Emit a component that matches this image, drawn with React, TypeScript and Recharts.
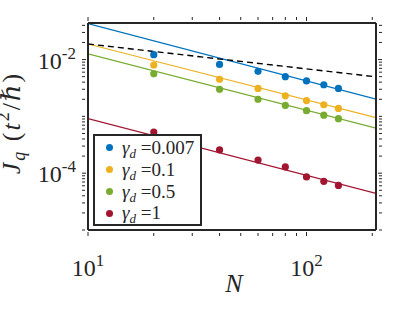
import React from 'react';
import {
  ComposedChart,
  Line,
  Scatter,
  XAxis,
  YAxis,
  Legend,
} from 'recharts';

// system sizes N and measured currents J_q for each dephasing rate
const sizes = [20, 40, 60, 80, 100, 120, 140];
const jGamma0007 = [0.0122, 0.0082, 0.0062, 0.005, 0.0042, 0.0036, 0.0031];
const jGamma01 = [0.008, 0.0045, 0.0031, 0.0023, 0.0019, 0.0016, 0.00138];
const jGamma05 = [0.0056, 0.003, 0.002, 0.00156, 0.00126, 0.00105, 0.00091];
const jGamma1 = [0.00053, 0.000257, 0.00017, 0.000129, 0.000086, 0.000072, 0.000061];

// fitted power laws, given at the two ends of the N range
const fitSizes = [10, 208];
const fitGamma0007 = [0.043, 0.00201];
const fitGamma01 = [0.0188, 0.00095];
const fitGamma05 = [0.0126, 0.00062];
const fitGamma1 = [0.00091, 0.000044];
const refSlope = [0.0188, 0.00497];

// axis ticks
const xMajorTicks = [10, 100];
const xTickExps = ['1', '2'];
const xMinorTicks = [20, 30, 40, 50, 60, 70, 80, 90, 200];
const yMajorTicks = [1e-4, 1e-2];
const yTickExps = ['-4', '-2'];
const yMinorTicks = [
  1e-5, 2e-5, 3e-5, 4e-5, 5e-5, 6e-5, 7e-5, 8e-5, 9e-5,
  2e-4, 3e-4, 4e-4, 5e-4, 6e-4, 7e-4, 8e-4, 9e-4,
  1e-3, 2e-3, 3e-3, 4e-3, 5e-3, 6e-3, 7e-3, 8e-3, 9e-3,
  2e-2, 3e-2, 4e-2,
];

const legendLabels = ['0.007', '0.1', '0.5', '1'];
const colors = ['#0072BD', '#EDB120', '#77AC30', '#A2142F'];

const FONT = "'Liberation Serif', 'DejaVu Serif', serif";
const AXIS = '#262626';

const toRows = (xs: number[], ys: number[]) => xs.map((n, i) => ({ n, j: ys[i] }));

const points = [jGamma0007, jGamma01, jGamma05, jGamma1].map((ys) => toRows(sizes, ys));
const fits = [fitGamma0007, fitGamma01, fitGamma05, fitGamma1].map((ys) => toRows(fitSizes, ys));
const refRows = toRows(fitSizes, refSlope);

const xTicks = [...xMajorTicks, ...xMinorTicks];
const yTicks = [...yMajorTicks, ...yMinorTicks];

const makeXTick = (side: 'bottom' | 'top') => (props: any) => {
  const { x, y, payload } = props;
  const idx = xMajorTicks.indexOf(payload.value);
  const len = idx >= 0 ? 4 : 3;
  const dir = side === 'bottom' ? -1 : 1;
  return (
    <g>
      <line x1={x} y1={y} x2={x} y2={y + dir * len} stroke={AXIS} strokeWidth={1} />
      {side === 'bottom' && idx >= 0 && (
        <text x={x} y={y + 40} textAnchor="middle" fontFamily={FONT} fontSize={24} fill={AXIS}>
          <tspan>10</tspan>
          <tspan fontSize={17} dy={-10}>{xTickExps[idx]}</tspan>
        </text>
      )}
    </g>
  );
};

const makeYTick = (side: 'left' | 'right') => (props: any) => {
  const { x, y, payload } = props;
  const idx = yMajorTicks.indexOf(payload.value);
  const len = idx >= 0 ? 4 : 3;
  const dir = side === 'left' ? 1 : -1;
  return (
    <g>
      <line x1={x} y1={y} x2={x + dir * len} y2={y} stroke={AXIS} strokeWidth={1} />
      {side === 'left' && idx >= 0 && (
        <text x={x - 6} y={y + 9} textAnchor="end" fontFamily={FONT} fontSize={24} fill={AXIS}>
          <tspan>10</tspan>
          <tspan fontSize={17} dy={-10}>{yTickExps[idx]}</tspan>
        </text>
      )}
    </g>
  );
};

const YLabel = () => (
  <text
    x={20}
    y={123}
    transform="rotate(-90 20 123)"
    textAnchor="middle"
    fontFamily={FONT}
    fontSize={26}
    letterSpacing={2}
    fill={AXIS}
  >
    <tspan fontStyle="italic">J</tspan>
    <tspan fontStyle="italic" fontSize={18} dy={5}>q</tspan>
    <tspan dy={-5}>{' ('}</tspan>
    <tspan fontStyle="italic">t</tspan>
    <tspan fontSize={18} dy={-11}>2</tspan>
    <tspan dy={11}>/</tspan>
    <tspan fontStyle="italic">ℏ</tspan>
    <tspan>)</tspan>
  </text>
);

const XLabel = () => (
  <text x={234} y={292} textAnchor="middle" fontFamily={FONT} fontSize={26} fontStyle="italic" fill={AXIS}>
    N
  </text>
);

const renderLegend = () => (
  <div
    style={{
      boxSizing: 'border-box',
      width: 109,
      height: 92,
      border: `2px solid ${AXIS}`,
      background: '#fff',
      paddingTop: 1,
      fontFamily: FONT,
      color: AXIS,
    }}
  >
    {legendLabels.map((label, i) => (
      <div key={label} style={{ display: 'flex', alignItems: 'center', height: 21.8 }}>
        <span
          style={{
            display: 'inline-block',
            width: 7,
            height: 7,
            borderRadius: '50%',
            background: colors[i],
            marginLeft: 11,
            marginRight: 9,
          }}
        />
        <span style={{ fontSize: 19, whiteSpace: 'nowrap' }}>
          <i>γ</i>
          <i style={{ fontSize: 13, position: 'relative', top: 4 }}>d</i>
          {' =' + label}
        </span>
      </div>
    ))}
  </div>
);

export default function App() {
  return (
    <div style={{ position: 'absolute', left: 0, top: 0, width: 415, height: 312, background: '#fff' }}>
      <ComposedChart width={415} height={312} margin={{ top: 22, right: 38, bottom: 81, left: 0 }}>
        <XAxis
          xAxisId="bottom"
          dataKey="n"
          type="number"
          scale="log"
          domain={[10, 208]}
          allowDataOverflow
          ticks={xTicks}
          interval={0}
          height={1}
          tickLine={false}
          tickMargin={0}
          axisLine={{ stroke: AXIS, strokeWidth: 2 }}
          tick={makeXTick('bottom')}
        />
        <XAxis
          xAxisId="top"
          orientation="top"
          dataKey="n"
          type="number"
          scale="log"
          domain={[10, 208]}
          allowDataOverflow
          ticks={xTicks}
          interval={0}
          height={1}
          tickLine={false}
          tickMargin={0}
          axisLine={{ stroke: AXIS, strokeWidth: 2 }}
          tick={makeXTick('top')}
        />
        <YAxis
          yAxisId="left"
          dataKey="j"
          type="number"
          scale="log"
          domain={[1e-5, 0.044]}
          allowDataOverflow
          ticks={yTicks}
          interval={0}
          width={88}
          tickLine={false}
          tickMargin={0}
          axisLine={{ stroke: AXIS, strokeWidth: 2 }}
          tick={makeYTick('left')}
        />
        <YAxis
          yAxisId="right"
          orientation="right"
          dataKey="j"
          type="number"
          scale="log"
          domain={[1e-5, 0.044]}
          allowDataOverflow
          ticks={yTicks}
          interval={0}
          width={1}
          tickLine={false}
          tickMargin={0}
          axisLine={{ stroke: AXIS, strokeWidth: 2 }}
          tick={makeYTick('right')}
        />
        {fits.map((rows, i) => (
          <Line
            key={`fit${i}`}
            xAxisId="bottom"
            yAxisId="left"
            data={rows}
            dataKey="j"
            type="linear"
            stroke={colors[i]}
            strokeWidth={1.2}
            dot={false}
            activeDot={false}
            isAnimationActive={false}
            legendType="none"
          />
        ))}
        <Line
          xAxisId="bottom"
          yAxisId="left"
          data={refRows}
          dataKey="j"
          type="linear"
          stroke="#000"
          strokeWidth={1.4}
          strokeDasharray="6 4"
          dot={false}
          activeDot={false}
          isAnimationActive={false}
          legendType="none"
        />
        {points.map((rows, i) => (
          <Scatter
            key={`pts${i}`}
            xAxisId="bottom"
            yAxisId="left"
            data={rows}
            dataKey="j"
            fill={colors[i]}
            isAnimationActive={false}
            shape={(p: any) => <circle cx={p.cx} cy={p.cy} r={3.6} fill={colors[i]} />}
          />
        ))}
        <Legend
          layout="vertical"
          align="center"
          verticalAlign="middle"
          content={renderLegend}
          wrapperStyle={{ left: 93, top: 134, width: 109, height: 92 }}
        />
        <YLabel />
        <XLabel />
      </ComposedChart>
    </div>
  );
}
